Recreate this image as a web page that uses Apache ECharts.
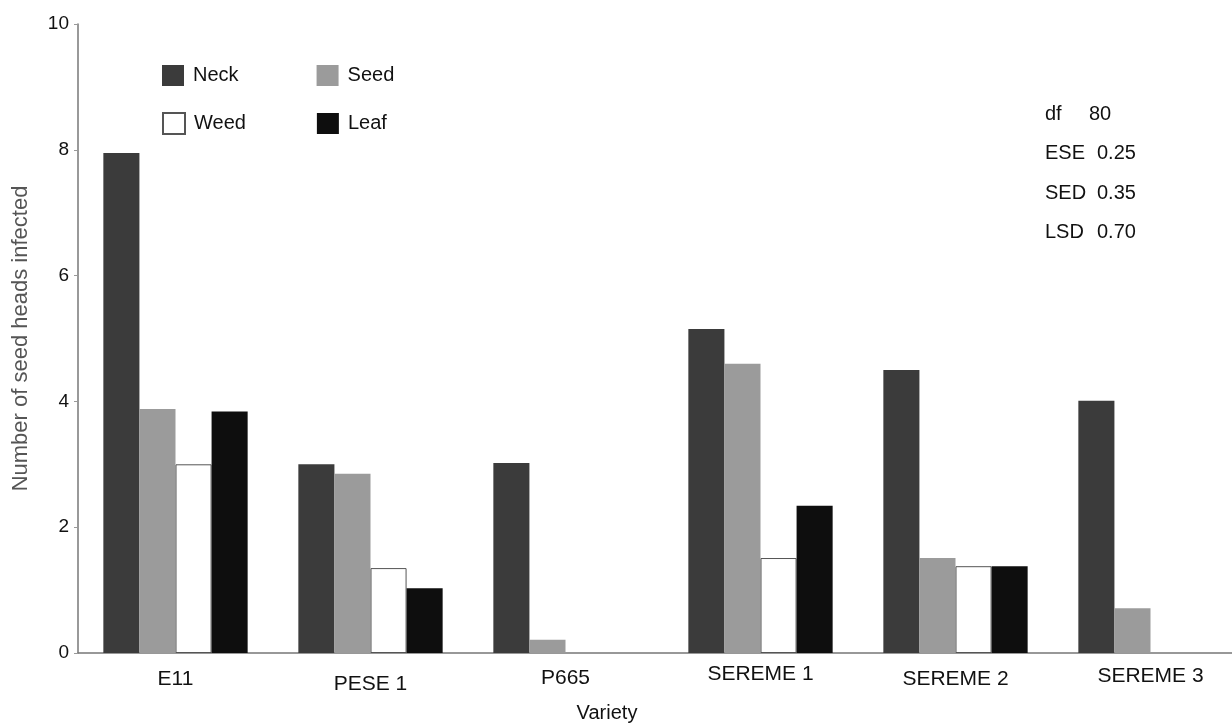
<!DOCTYPE html>
<html>
<head>
<meta charset="utf-8">
<script src="https://cdn.jsdelivr.net/npm/echarts@6/dist/echarts.min.js"></script>
<style>
  html, body { margin: 0; padding: 0; background: #fff; }
  #chart { width: 1232px; height: 724px; }
</style>
</head>
<body>
<div id="chart"></div>
<script>
// ---- data ----
const categories = ['E11', 'PESE 1', 'P665', 'SEREME 1', 'SEREME 2', 'SEREME 3'];
const neck = [7.95, 3.0, 3.02, 5.15, 4.5, 4.01];
const seed = [3.88, 2.85, 0.21, 4.6, 1.51, 0.71];
const weed = [3.0, 1.35, null, 1.51, 1.38, null];
const leaf = [3.84, 1.03, null, 2.34, 1.38, null];
const yTicks = [0, 2, 4, 6, 8, 10];
const statNames = ['df', 'ESE', 'SED', 'LSD'];
const statValues = ['80', '0.25', '0.35', '0.70'];

// ---- styling (not data) ----
const labelNudge = [5, 10, 4, 0, 5, 2];
const FONT = 'Liberation Sans, Arial, Helvetica, sans-serif';

const chart = echarts.init(document.getElementById('chart'), null, { renderer: 'canvas' });

const statGraphics = [];
statNames.forEach((n, i) => {
  const y = 115 + i * 39.5;
  statGraphics.push({
    type: 'text', left: 1045, top: y - 11,
    style: { text: n, font: '20px ' + FONT, fill: '#111' }
  });
  statGraphics.push({
    type: 'text', left: i === 0 ? 1089 : 1097, top: y - 11,
    style: { text: statValues[i], font: '20px ' + FONT, fill: '#111' }
  });
});

const barBase = { type: 'bar', barGap: '0%', barCategoryGap: '26%' };

chart.setOption({
  animation: false,
  backgroundColor: '#fff',
  textStyle: { fontFamily: FONT },
  grid: { left: 78, top: 24, bottom: 71, width: 1170, outerBoundsMode: 'none', containLabel: false },
  legend: [
    {
      data: ['Neck', 'Seed'], left: 157, top: 60, itemWidth: 22, itemHeight: 21, icon: 'rect',
      itemGap: 78, textStyle: { fontSize: 20, color: '#111', padding: [0, 0, 0, 4] }
    },
    {
      data: ['Weed', 'Leaf'], left: 157, top: 107, itemWidth: 22, itemHeight: 21, icon: 'rect',
      itemGap: 71, textStyle: { fontSize: 20, color: '#111', padding: [0, 0, 0, 4] }
    }
  ],
  xAxis: {
    type: 'category',
    data: categories.map((c, i) => ({ value: c, textStyle: { padding: [labelNudge[i], 0, 0, 0] } })),
    axisLine: { show: true, lineStyle: { color: '#777', width: 1.5 } },
    axisTick: { show: false },
    axisLabel: { fontSize: 21, color: '#111', margin: 11 },
    name: 'Variety',
    nameLocation: 'middle',
    nameGap: 50,
    nameTextStyle: { fontSize: 20, color: '#111', padding: [0, 112, 0, 0] }
  },
  yAxis: {
    type: 'value',
    min: 0, max: 10, interval: 2,
    axisLine: { show: true, lineStyle: { color: '#777', width: 1.5 } },
    axisTick: { show: true, length: 4, lineStyle: { color: '#999' } },
    splitLine: { show: false },
    axisLabel: {
      fontSize: 19, color: '#111', margin: 9,
      formatter: v => (yTicks.indexOf(v) >= 0 ? String(v) : '')
    },
    name: 'Number of seed heads infected',
    nameLocation: 'middle',
    nameGap: 46,
    nameTextStyle: { fontSize: 22, color: '#555' }
  },
  graphic: statGraphics,
  series: [
    Object.assign({ name: 'Neck', data: neck, itemStyle: { color: '#3b3b3b' } }, barBase),
    Object.assign({ name: 'Seed', data: seed, itemStyle: { color: '#9b9b9b' } }, barBase),
    Object.assign({ name: 'Weed', data: weed, itemStyle: { color: '#ffffff', borderColor: '#555', borderWidth: 1 } }, barBase),
    Object.assign({ name: 'Leaf', data: leaf, itemStyle: { color: '#0e0e0e' } }, barBase)
  ]
});
</script>
</body>
</html>
